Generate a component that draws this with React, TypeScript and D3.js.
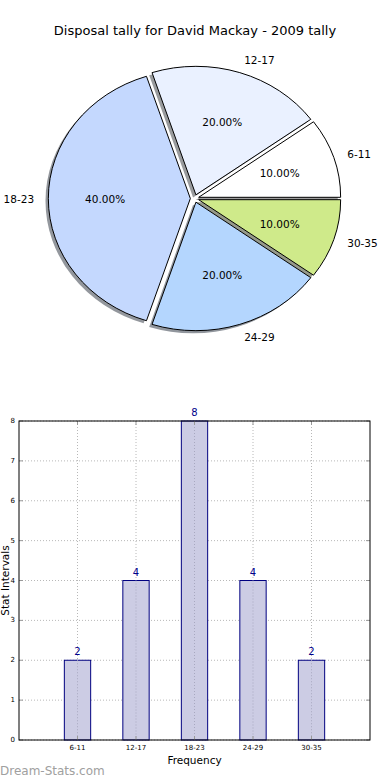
import * as d3 from 'd3';

const categories = ['6-11', '12-17', '18-23', '24-29', '30-35'];
const counts = [2, 4, 8, 4, 2];
const sliceColors = ['#ffffff', '#eaf1ff', '#c4d8fe', '#b4d6fe', '#cfea8a'];
const yTicks = [0, 1, 2, 3, 4, 5, 6, 7, 8];

const W = 390;
const H = 780;
const font = '"DejaVu Sans", sans-serif';

// pie geometry (matplotlib pie squashed by a non-equal aspect)
const pie = { cx: 194.6, cy: 198.5, rx: 142, ry: 128.5, explode: 0.03 };
// bar axes box
const box = { left: 19, right: 370, top: 421, bottom: 740 };

const shadowOf = (c: string) => {
  const rgb = d3.rgb(c);
  return d3.rgb(rgb.r * 0.3, rgb.g * 0.3, rgb.b * 0.3).formatHex();
};

const App = () => {
  const total = d3.sum(counts);
  // start at 3 o'clock, go counterclockwise like matplotlib
  const arcs = d3
    .pie<number>()
    .sort(null)
    .startAngle(Math.PI / 2)
    .endAngle(Math.PI / 2 - 2 * Math.PI)(counts);

  const arc = d3.arc<d3.PieArcDatum<number>>().innerRadius(0).outerRadius(100);

  // unit circle coordinates -> pixels
  const px = (u: number) => pie.cx + u * pie.rx;
  const py = (v: number) => pie.cy - v * pie.ry;

  const slices = arcs.map((a, i) => {
    // mid angle in math convention
    const d3mid = (a.startAngle + a.endAngle) / 2;
    const theta = Math.PI / 2 - d3mid;
    const ox = pie.explode * Math.cos(theta);
    const oy = pie.explode * Math.sin(theta);
    const lx = ox + 1.1 * Math.cos(theta);
    const ly = oy + 1.1 * Math.sin(theta);
    const tx = ox + 0.6 * Math.cos(theta);
    const ty = oy + 0.6 * Math.sin(theta);
    return {
      a,
      i,
      ox: px(ox),
      oy: py(oy),
      label: { x: px(lx), y: py(ly), anchor: lx > 0 ? 'start' : 'end' },
      pct: { x: px(tx), y: py(ty), text: ((counts[i] / total) * 100).toFixed(2) + '%' },
    };
  });

  const sx = pie.rx / 100;
  const sy = pie.ry / 100;

  const x = d3.scaleLinear().domain([0, 6]).range([box.left, box.right]);
  const y = d3.scaleLinear().domain([0, 8]).range([box.bottom, box.top]);
  const barW = x(0.45) - x(0);

  return (
    <svg width={W} height={H} style={{ position: 'absolute', left: 0, top: 0 }} fontFamily={font}>
      <rect width={W} height={H} fill="#ffffff" />
      <text x={195} y={34.5} textAnchor="middle" fontSize={13} fill="#000">
        Disposal tally for David Mackay - 2009 tally
      </text>

      {/* shadows below every wedge */}
      {slices.map((s) => (
        <path
          key={'sh' + s.i}
          d={arc(s.a) as string}
          transform={`translate(${s.ox - 0.02 * pie.rx},${s.oy + 0.02 * pie.ry}) scale(${sx},${sy})`}
          fill={shadowOf(sliceColors[s.i])}
          fillOpacity={0.55}
          stroke="none"
        />
      ))}
      {slices.map((s) => (
        <path
          key={'w' + s.i}
          d={arc(s.a) as string}
          transform={`translate(${s.ox},${s.oy}) scale(${sx},${sy})`}
          fill={sliceColors[s.i]}
          stroke="#000"
          strokeWidth={1}
          vectorEffect="non-scaling-stroke"
        />
      ))}
      {slices.map((s) => (
        <g key={'l' + s.i} fontSize={10.5} fill="#000">
          <text x={s.label.x} y={s.label.y} textAnchor={s.label.anchor} dominantBaseline="central">
            {categories[s.i]}
          </text>
          <text x={s.pct.x} y={s.pct.y} textAnchor="middle" dominantBaseline="central">
            {s.pct.text}
          </text>
        </g>
      ))}

      {/* bar chart grid */}
      {yTicks.map((t) => (
        <line
          key={'gy' + t}
          x1={box.left}
          x2={box.right}
          y1={y(t)}
          y2={y(t)}
          stroke="#b8b8b8"
          strokeDasharray="1,2"
        />
      ))}
      {categories.map((c, i) => (
        <line
          key={'gx' + c}
          x1={x(i + 1)}
          x2={x(i + 1)}
          y1={box.top}
          y2={box.bottom}
          stroke="#b8b8b8"
          strokeDasharray="1,2"
        />
      ))}

      {counts.map((v, i) => (
        <g key={'b' + i}>
          <rect
            x={x(i + 1) - barW / 2}
            y={y(v)}
            width={barW}
            height={y(0) - y(v)}
            fill="#ccccE4"
            stroke="#000080"
            strokeWidth={1}
          />
          <line
            x1={x(i + 1)}
            x2={x(i + 1)}
            y1={y(v)}
            y2={box.bottom}
            stroke="#a8a8c0"
            strokeDasharray="1,2"
          />
          <text x={x(i + 1)} y={y(v) - 5} textAnchor="middle" fontSize={10} fill="#00008b">
            {v}
          </text>
        </g>
      ))}

      {/* tick marks, inward on all sides */}
      {yTicks.map((t) => (
        <g key={'ty' + t} stroke="#999" strokeWidth={1}>
          <line x1={box.left} x2={box.left + 4} y1={y(t)} y2={y(t)} />
          <line x1={box.right - 4} x2={box.right} y1={y(t)} y2={y(t)} />
        </g>
      ))}
      {categories.map((c, i) => (
        <g key={'tx' + c} stroke="#999" strokeWidth={1}>
          <line x1={x(i + 1)} x2={x(i + 1)} y1={box.bottom - 4} y2={box.bottom} />
          <line x1={x(i + 1)} x2={x(i + 1)} y1={box.top} y2={box.top + 4} />
        </g>
      ))}

      <rect
        x={box.left}
        y={box.top}
        width={box.right - box.left}
        height={box.bottom - box.top}
        fill="none"
        stroke="#000"
        strokeWidth={1}
      />

      {yTicks.map((t) => (
        <text key={'ly' + t} x={box.left - 4} y={y(t)} textAnchor="end" dominantBaseline="central" fontSize={7} fill="#000">
          {t}
        </text>
      ))}
      {categories.map((c, i) => (
        <text key={'lx' + c} x={x(i + 1)} y={box.bottom + 10} textAnchor="middle" fontSize={7} fill="#000">
          {c}
        </text>
      ))}

      <text x={(box.left + box.right) / 2} y={764} textAnchor="middle" fontSize={10.5} fill="#000">
        Frequency
      </text>
      <text
        transform={`translate(9,${(box.top + box.bottom) / 2}) rotate(-90)`}
        textAnchor="middle"
        fontSize={10.5}
        fill="#000"
      >
        Stat Intervals
      </text>
      <text x={0} y={775} fontSize={12} fill="#a0a0a0">
        Dream-Stats.com
      </text>
    </svg>
  );
};

export default App;
